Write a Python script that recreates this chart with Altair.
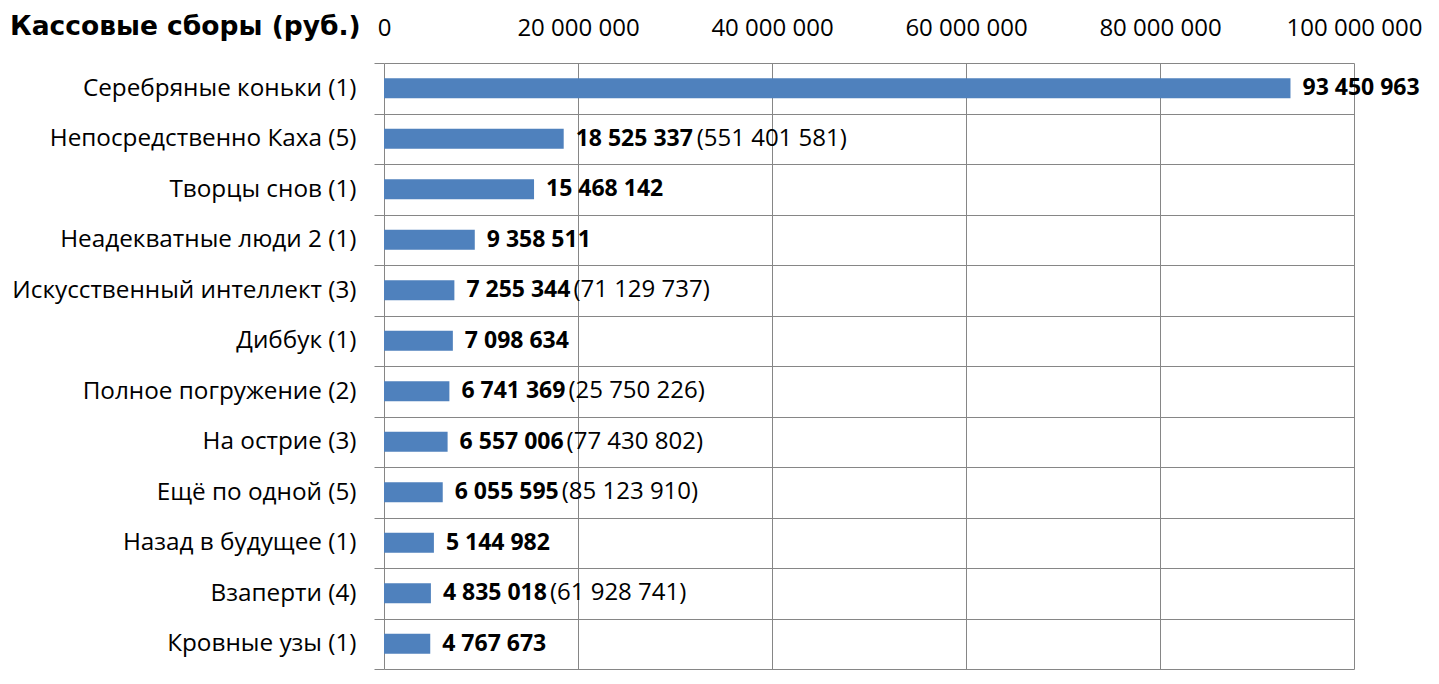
import altair as alt
import pandas as pd

title_text = "Кассовые сборы (руб.)"
films = ["Серебряные коньки (1)", "Непосредственно Каха (5)", "Творцы снов (1)",
         "Неадекватные люди 2 (1)", "Искусственный интеллект (3)", "Диббук (1)",
         "Полное погружение (2)", "На острие (3)", "Ещё по одной (5)",
         "Назад в будущее (1)", "Взаперти (4)", "Кровные узы (1)"]
weekend = [93450963, 18525337, 15468142, 9358511, 7255344, 7098634,
           6741369, 6557006, 6055595, 5144982, 4835018, 4767673]
totals = [None, 551401581, None, None, 71129737, None,
          25750226, 77430802, 85123910, None, 61928741, None]
tick_values = [0, 20000000, 40000000, 60000000, 80000000, 100000000]


def fmt(v):
    return f"{int(v):,}".replace(",", " ")


df = pd.DataFrame({
    "film": films,
    "value": weekend,
    "vlabel": [fmt(v) for v in weekend],
    "tlabel": ["" if t is None else "(" + fmt(t) + ")" for t in totals],
})
df["vlen"] = df["vlabel"].str.len()

FONT = "Open Sans"
FS = 24
GRID = "#868686"
BAR = "#4F81BD"

base = alt.Chart(df)

y_enc = alt.Y(
    "film:N", sort=films, title=None,
    scale=alt.Scale(paddingInner=0, paddingOuter=0),
    axis=alt.Axis(grid=True, tickBand="extent", tickSize=10, tickColor=GRID,
                  gridColor=GRID, gridWidth=1, domain=False,
                  labelFont=FONT, labelFontSize=24.3, labelColor="black",
                  labelPadding=18, labelLimit=500),
)
x_enc = alt.X(
    "value:Q", title=None,
    scale=alt.Scale(domain=[0, 100000000], nice=False),
    axis=alt.Axis(orient="top", values=tick_values, grid=True, gridColor=GRID,
                  gridWidth=1, domain=False, ticks=False, tickSize=0,
                  labelFont=FONT, labelFontSize=FS, labelColor="black",
                  labelPadding=23, labelOverlap=False, labelBound=False,
                  labelFlush=False, labelAlign="center",
                  labelExpr="replace(format(datum.value, ','), /,/g, ' ')"),
)

bars = base.mark_bar(color=BAR, height=alt.RelativeBandSize(0.4)).encode(x=x_enc, y=y_enc)

vals = base.mark_text(align="left", baseline="middle", dx=12, font=FONT,
                      fontSize=23, fontWeight="bold", color="black").encode(
    x="value:Q", y=alt.Y("film:N", sort=films), text="vlabel:N")

paren10 = base.transform_filter("datum.tlabel != '' && datum.vlen == 10").mark_text(
    align="left", baseline="middle", dx=133, font=FONT, fontSize=FS,
    color="black").encode(x="value:Q", y=alt.Y("film:N", sort=films), text="tlabel:N")

paren9 = base.transform_filter("datum.tlabel != '' && datum.vlen == 9").mark_text(
    align="left", baseline="middle", dx=119, font=FONT, fontSize=FS,
    color="black").encode(x="value:Q", y=alt.Y("film:N", sort=films), text="tlabel:N")

title = alt.Chart(pd.DataFrame({"t": [title_text]})).mark_text(
    align="left", baseline="alphabetic", font="DejaVu Sans", fontSize=26.5,
    fontWeight="bold", color="black").encode(
    text="t:N", x=alt.value(-374), y=alt.value(-28))

chart = alt.layer(bars, vals, paren10, paren9, title).properties(
    width=970, height=606,
    autosize=alt.AutoSizeParams(type="none"),
    padding={"left": 376, "top": 55, "right": 70, "bottom": 7},
).configure_view(stroke=None)

chart.save("out.html", embed_options={"renderer": "svg", "actions": False})
